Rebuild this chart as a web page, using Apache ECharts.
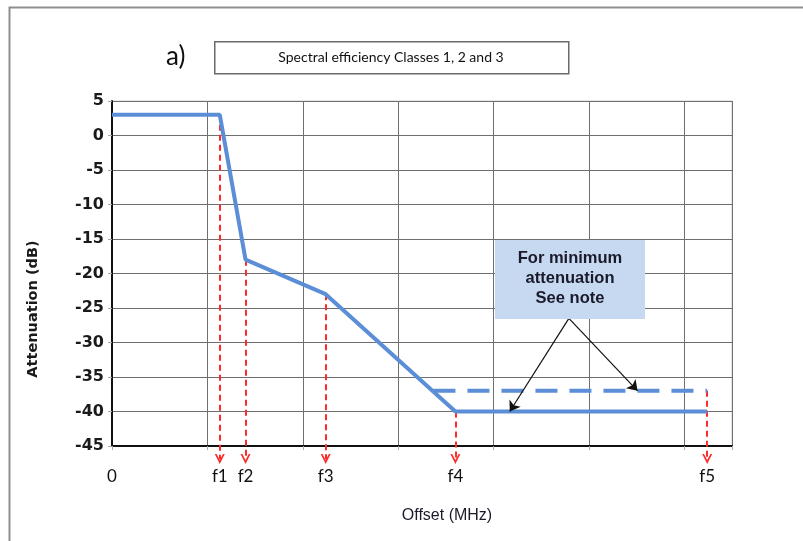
<!DOCTYPE html>
<html>
<head>
<meta charset="utf-8">
<script src="https://cdn.jsdelivr.net/npm/echarts@6/dist/echarts.min.js"></script>
<style>html,body{margin:0;padding:0;background:#fff}#c{width:803px;height:541px}</style>
</head>
<body>
<div id="c"></div>
<script>
// ---- data ----
const tickNames = ['0', 'f1', 'f2', 'f3', 'f4', 'f5'];
const tickValues = [0, 1.13, 1.40, 2.24, 3.60, 6.24];
const maskX = [0, 1.13, 1.40, 2.24, 3.60, 6.24];
const maskY = [3, 3, -18, -23, -40, -40];
const minAttX = [3.37, 6.24];
const minAttY = [-37, -37];
const markerX = [1.13, 1.40, 2.24, 3.60, 6.24];
const markerTop = [3, -18, -23, -40, -37];
const markerBottom = -46.9;
const noteFrom = [4.79, -26.5];
const noteTargets = [[4.17, -40], [5.51, -37]];
const yTicks = { min: -45, max: 5, interval: 5 };
const xRange = { min: 0, max: 6.5, interval: 1 };

const blue = '#5B8ED6';
const red = '#FF2A2A';
const chevron = 'path://M5,0 L10,8 L8.2,8 L5,3.2 L1.8,8 L0,8 Z';

const chart = echarts.init(document.getElementById('c'), null, { renderer: 'canvas' });
chart.setOption({
  animation: false,
  backgroundColor: '#fff',
  grid: { left: 112, right: 71, top: 101, bottom: 95, show: true, borderColor: '#cfcfcf', borderWidth: 1 },
  xAxis: {
    type: 'value', min: xRange.min, max: xRange.max, interval: xRange.interval,
    axisLine: { onZero: false, lineStyle: { color: '#111', width: 2 } },
    axisTick: { show: true, length: 4, lineStyle: { color: '#aaa' } },
    splitLine: { show: true, lineStyle: { color: '#6f6f6f', width: 1 } },
    axisLabel: {
      customValues: tickValues,
      margin: 22,
      fontFamily: 'Lato', fontSize: 17, color: '#111',
      formatter: function (v) {
        let best = 0, d = Infinity;
        tickValues.forEach(function (t, i) { if (Math.abs(t - v) < d) { d = Math.abs(t - v); best = i; } });
        return tickNames[best];
      }
    }
  },
  yAxis: {
    type: 'value', min: yTicks.min, max: yTicks.max, interval: yTicks.interval,
    axisLine: { show: true, onZero: false, lineStyle: { color: '#111', width: 2 } },
    axisTick: { show: true, length: 4, lineStyle: { color: '#aaa' } },
    splitLine: { show: true, lineStyle: { color: '#6f6f6f', width: 1 } },
    axisLabel: { margin: 8, fontFamily: 'DejaVu Sans', fontWeight: 'bold', fontSize: 16, color: '#1a1a1a' }
  },
  series: [
    {
      type: 'lines', coordinateSystem: 'cartesian2d', clip: false, z: 2,
      symbol: ['none', chevron], symbolSize: [11, 10],
      lineStyle: { color: red, width: 2, type: [6, 4], opacity: 1 },
      data: markerX.map(function (x, i) { return { coords: [[x, markerTop[i]], [x, markerBottom]] }; })
    },
    {
      type: 'line', name: 'mask', z: 3, symbol: 'none',
      lineStyle: { color: blue, width: 4 },
      data: maskX.map(function (x, i) { return [x, maskY[i]]; })
    },
    {
      type: 'line', name: 'min', z: 3, symbol: 'none',
      lineStyle: { color: blue, width: 4, type: [22, 12] },
      data: minAttX.map(function (x, i) { return [x, minAttY[i]]; })
    },
    {
      type: 'lines', coordinateSystem: 'cartesian2d', clip: false, z: 4,
      symbol: ['none', 'arrow'], symbolSize: [7, 10],
      lineStyle: { color: '#111', width: 1.2, opacity: 1 },
      data: noteTargets.map(function (t) { return { coords: [noteFrom, t] }; })
    }
  ],
  graphic: [
    { type: 'rect', left: 7, top: 5, shape: { width: 900, height: 600 }, style: { fill: 'none', stroke: '#8f8f8f', lineWidth: 2 }, silent: true },
    { type: 'text', left: 166, top: 44, style: { text: 'a)', font: '26px Lato', fill: '#111' } },
    { type: 'rect', left: 214, top: 41, shape: { width: 354, height: 32 }, style: { fill: '#fff', stroke: '#6a6a6a', lineWidth: 1.5 } },
    { type: 'text', x: 391, y: 57, style: { text: 'Spectral efficiency Classes 1, 2 and 3', font: '14px Lato', fill: '#111', align: 'center', verticalAlign: 'middle' } },
    { type: 'rect', left: 495, top: 240, z: 10, shape: { width: 150, height: 79 }, style: { fill: '#C6D9F1' } },
    { type: 'text', x: 570, y: 278, z: 11, style: { text: 'For minimum\nattenuation\nSee note', font: 'bold 16.5px "Liberation Sans"', lineHeight: 20, fill: '#1a1a2a', align: 'center', verticalAlign: 'middle' } },
    { type: 'text', x: 447, y: 516, style: { text: 'Offset (MHz)', font: '16px "Liberation Sans"', fill: '#1a1a2a', align: 'center', verticalAlign: 'middle' } },
    { type: 'text', x: 33, y: 309, rotation: Math.PI / 2, style: { text: 'Attenuation (dB)', font: 'bold 14.5px "DejaVu Sans"', fill: '#1a1a1a', align: 'center', verticalAlign: 'middle' } }
  ]
});
</script>
</body>
</html>
